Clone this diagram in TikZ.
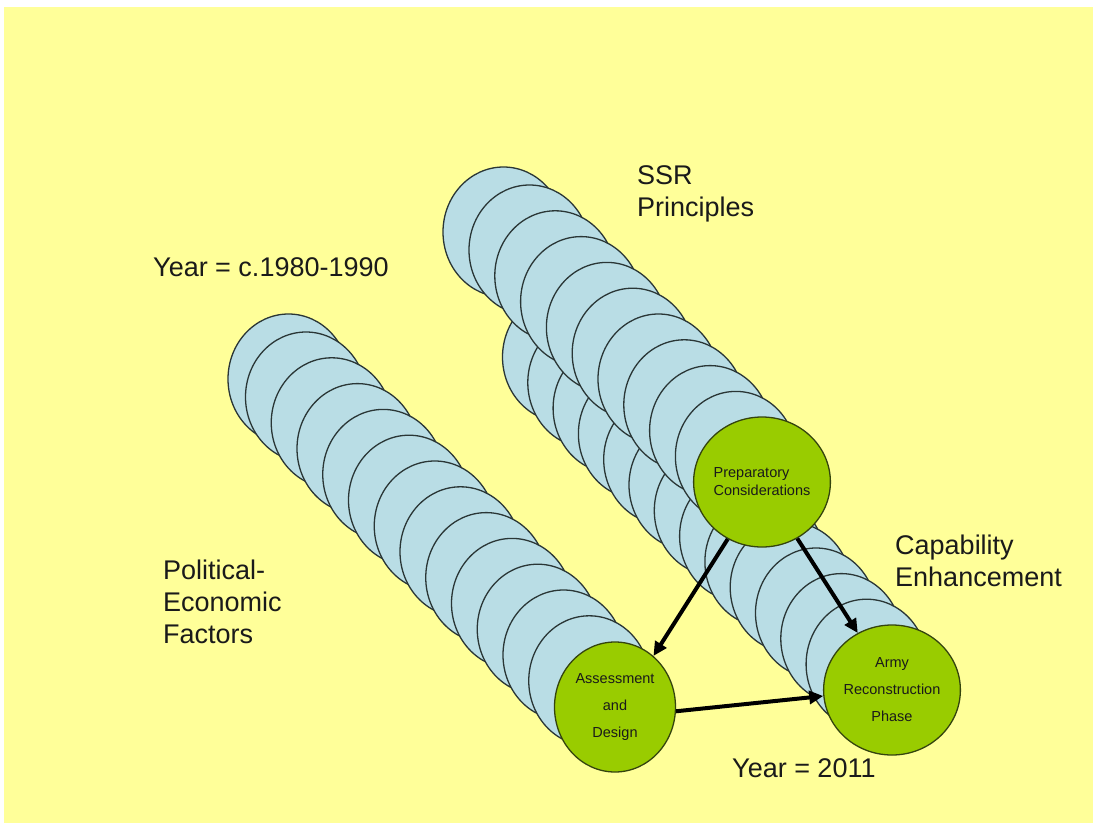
\documentclass[tikz,border=0pt]{standalone}
\usepackage{fontspec}
\setmainfont{Liberation Sans}
\usetikzlibrary{shapes.geometric,arrows.meta}
\definecolor{bgyellow}{HTML}{FFFF99}
\definecolor{discblue}{HTML}{B9DDE5}
\definecolor{discgreen}{HTML}{99CC00}
\definecolor{discline}{HTML}{2A3636}
\definecolor{greenline}{HTML}{34440E}
\definecolor{inktext}{HTML}{1A1A1A}
\begin{document}
\begin{tikzpicture}[x=1pt,y=-1pt,
 disc/.style={ellipse,minimum width=121pt,minimum height=130pt,inner sep=0pt,draw=discline,line width=1.3pt,fill=discblue},
 keydisc/.style={disc,fill=discgreen,draw=greenline,text=inktext},
 biglabel/.style={anchor=north west,inner sep=0pt,align=left,text=inktext,font=\fontsize{27}{32}\selectfont},
 link/.style={line width=4pt,-{Triangle[length=14pt,width=13pt]}}
]
\fill[white] (0,0) rectangle (1093,823);
\useasboundingbox (0,0) rectangle (1093,823);
\fill[bgyellow] (3.5,7) rectangle (1093,823);

% chain: capability enhancement
\foreach \i in {0,...,12} \node[disc] (c\i) at ({563+\i*25.3},{357+\i*25.6}) {};
% chain: SSR principles
\node[disc] (b0) at (503.5,232) {};
\foreach \i in {1,...,9} \node[disc] (b\i) at ({529.5+(\i-1)*25.8},{250+(\i-1)*25.8}) {};
% chain: political-economic factors
\node[disc] (a0) at (288.5,379) {};
\foreach \i in {1,...,12} \node[disc] (a\i) at ({306+(\i-1)*25.75},{397+(\i-1)*25.8}) {};

\node[keydisc,align=left,font=\fontsize{14.5}{18}\selectfont] (prep) at (762,482) {Preparatory\\Considerations};
\node[keydisc,align=center,font=\fontsize{14.5}{27}\selectfont] (assess) at (615,707) {Assessment\\and\\Design};
\node[keydisc,align=center,font=\fontsize{14.5}{27}\selectfont] (army) at (892,690) {Army\\Reconstruction\\Phase};

\draw[link] (prep.239) -- (assess.53);
\draw[link] (prep.302) -- (army.121);
\draw[link] (assess.-4) -- (army.185);

\node[biglabel] (ssr) at (637,165) {SSR\\Principles};
\node[biglabel] (yr1) at (153,257) {Year = c.1980-1990};
\node[biglabel] (pol) at (163,560) {Political-\\Economic\\Factors};
\node[biglabel] (cap) at (895,535) {Capability\\Enhancement};
\node[biglabel] (yr2) at (732,758) {Year = 2011};
\end{tikzpicture}
\end{document}
